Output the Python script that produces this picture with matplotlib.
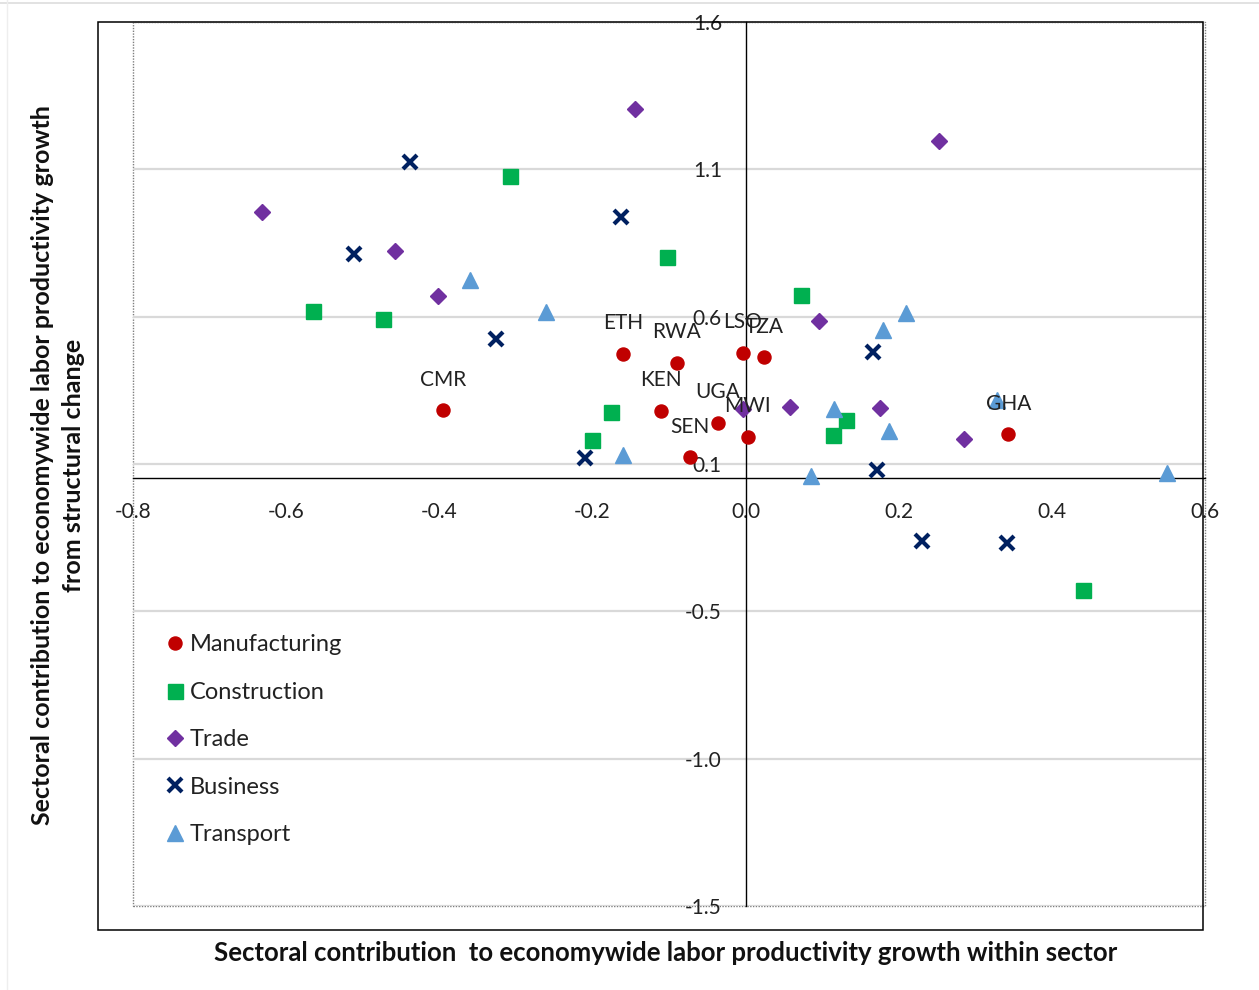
import numpy as np
import matplotlib
matplotlib.use("Agg")
import matplotlib.pyplot as plt
from matplotlib.patches import Rectangle
from matplotlib.lines import Line2D

plt.rcParams["font.family"] = ["Lato", "DejaVu Sans"]

# Manufacturing points (labelled by country)
manu_codes = ["CMR", "ETH", "RWA", "KEN", "SEN", "UGA", "LSO", "TZA", "MWI", "GHA"]
manu_x = [-0.395, -0.160, -0.090, -0.111, -0.073, -0.036, -0.004, 0.024, 0.003, 0.343]
manu_y = [0.239, 0.436, 0.404, 0.236, 0.074, 0.195, 0.441, 0.425, 0.146, 0.155]

cons_x = [-0.565, -0.474, -0.307, -0.102, -0.176, -0.201, 0.073, 0.131, 0.114, 0.441]
cons_y = [0.586, 0.558, 1.061, 0.777, 0.231, 0.134, 0.643, 0.204, 0.150, -0.391]

trade_x = [-0.632, -0.144, -0.458, -0.402, 0.252, 0.096, -0.003, 0.058, 0.176, 0.285]
trade_y = [0.933, 1.296, 0.797, 0.640, 1.184, 0.552, 0.242, 0.249, 0.245, 0.137]

bus_x = [-0.438, -0.511, -0.163, -0.326, -0.210, 0.166, 0.172, 0.230, 0.341]
bus_y = [1.109, 0.786, 0.917, 0.488, 0.071, 0.443, 0.030, -0.220, -0.228]

trans_x = [-0.360, -0.261, -0.160, 0.085, 0.116, 0.179, 0.210, 0.187, 0.328, 0.551]
trans_y = [0.695, 0.583, 0.081, 0.008, 0.243, 0.520, 0.580, 0.166, 0.274, 0.017]

XTICKS = [-0.8, -0.6, -0.4, -0.2, 0.0, 0.2, 0.4, 0.6]
XTICK_LABELS = ["-0.8", "-0.6", "-0.4", "-0.2", "0.0", "0.2", "0.4", "0.6"]
YTICK_LABELS = ["-1.5", "-1.0", "-0.5", "0.1", "0.6", "1.1", "1.6"]

fig = plt.figure(figsize=(12.59, 9.9), dpi=100)
ax = fig.add_axes([133 / 1259, 1 - 906 / 990, (1205 - 133) / 1259, (906 - 22) / 990])
ax.set_xlim(-0.8, 0.6)
ax.set_ylim(-1.5, 1.6)

# axes cross at zero
for s in ["top", "right"]:
    ax.spines[s].set_visible(False)
ax.spines["left"].set_position(("data", 0))
ax.spines["bottom"].set_position(("data", 0))
ax.spines["left"].set_color("black")
ax.spines["bottom"].set_color("black")
ax.spines["left"].set_linewidth(1.0)
ax.spines["bottom"].set_linewidth(1.0)

ax.set_xticks(XTICKS)
ax.set_xticklabels(XTICK_LABELS)
ax.set_yticks(np.linspace(-1.5, 1.6, 7))
ax.set_yticklabels(YTICK_LABELS)
ax.tick_params(axis="both", length=0, labelsize=15, colors="#222222")
ax.tick_params(axis="y", pad=17)
ax.tick_params(axis="x", pad=17)
ax.yaxis.grid(True, color="#D9D9D9", linewidth=1.6)
ax.set_axisbelow(True)

# dotted plot-area border
ax.add_patch(Rectangle((0, 0), 1, 1, transform=ax.transAxes, fill=False,
                       edgecolor="#7F7F7F", linestyle=(0, (1, 1)), linewidth=1.0,
                       clip_on=False, zorder=0.5))

ax.plot(manu_x, manu_y, "o", color="#C00000", ms=9.4, mec="#C00000",
        ls="none", label="Manufacturing", zorder=3)
ax.plot(cons_x, cons_y, "s", color="#00B050", ms=10.8, mec="#00B050",
        ls="none", label="Construction", zorder=3)
ax.plot(trade_x, trade_y, "D", color="#7030A0", ms=8.4, mec="#7030A0",
        ls="none", label="Trade", zorder=3)
ax.plot(bus_x, bus_y, "x", color="#002060", ms=9.5, mew=3.0,
        ls="none", label="Business", zorder=3)
ax.plot(trans_x, trans_y, "^", color="#5B9BD5", ms=11.5, mec="#5B9BD5",
        ls="none", label="Transport", zorder=3)

for code, x, y in zip(manu_codes, manu_x, manu_y):
    ax.annotate(code, (x, y), xytext=(0, 22), textcoords="offset points",
                ha="center", va="center", fontsize=15, color="#222222", zorder=4)

ax.legend(loc="upper left", bbox_to_anchor=(0.024, 0.318), frameon=False,
          fontsize=17, handlelength=0.6, handletextpad=0.3,
          labelspacing=1.12, borderaxespad=0, labelcolor="#222222")

# outer chart box
fig.add_artist(Rectangle((98 / 1259, 1 - 930 / 990), (1203 - 98) / 1259, (930 - 22) / 990,
                         transform=fig.transFigure, fill=False, edgecolor="black",
                         linewidth=1.1, zorder=10))
# faint screenshot borders
fig.add_artist(Line2D([0, 1], [1 - 3 / 990, 1 - 3 / 990], transform=fig.transFigure,
                      color="#DDDDDD", linewidth=1.2))
fig.add_artist(Line2D([7 / 1259, 7 / 1259], [0, 1], transform=fig.transFigure,
                      color="#EEEEEE", linewidth=1.0))

fig.text(666 / 1259, 1 - 953 / 990,
         "Sectoral contribution  to economywide labor productivity growth within sector",
         ha="center", va="center", fontsize=18.5, fontweight="bold", color="#111111")
fig.text(58 / 1259, 1 - 465 / 990,
         "Sectoral contribution to economywide labor productivity growth\nfrom structural change",
         ha="center", va="center", rotation=90, fontsize=18, fontweight="bold",
         color="#111111", linespacing=1.42, multialignment="center")

fig.savefig("out.png", dpi=100)
